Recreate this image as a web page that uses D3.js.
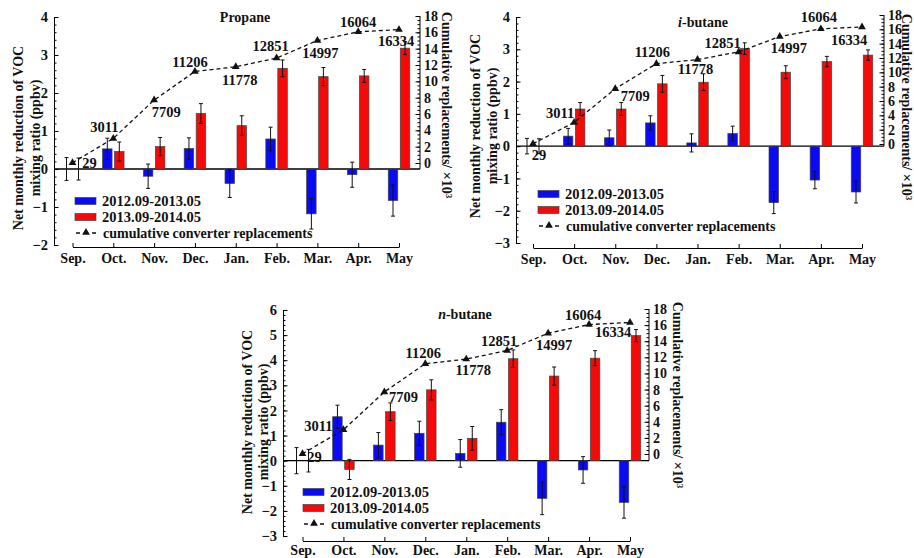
<!DOCTYPE html>
<html>
<head>
<meta charset="utf-8">
<script src="https://cdn.jsdelivr.net/npm/d3@7"></script>
<style>
  body { margin: 0; background: #fff; }
  text { font-family: 'Liberation Serif', 'Times New Roman', serif; font-weight: bold; fill: #111; }
</style>
</head>
<body>
<div id="chart"></div>
<script>
// data
const months = ['Sep.', 'Oct.', 'Nov.', 'Dec.', 'Jan.', 'Feb.', 'Mar.', 'Apr.', 'May']
const replacements = [29, 3011, 7709, 11206, 11778, 12851, 14997, 16064, 16334]
const seriesNames = ['2012.09-2013.05', '2013.09-2014.05', 'cumulative converter replacements']

const propane2012 = [0, 0.53, -0.19, 0.54, -0.38, 0.79, -1.18, -0.15, -0.83]
const propane2012Err = [0.3, 0.28, 0.32, 0.28, 0.37, 0.31, 0.4, 0.33, 0.41]
const propane2013 = [0, 0.46, 0.59, 1.46, 1.14, 2.65, 2.43, 2.45, 3.18]
const propane2013Err = [0.29, 0.25, 0.24, 0.26, 0.26, 0.22, 0.24, 0.17, 0.17]

const ibutane2012 = [0, 0.31, 0.26, 0.72, 0.10, 0.39, -1.75, -1.05, -1.42]
const ibutane2012Err = [0.24, 0.24, 0.24, 0.22, 0.28, 0.23, 0.34, 0.27, 0.34]
const ibutane2013 = [0, 1.15, 1.15, 1.93, 1.98, 3.02, 2.29, 2.62, 2.82]
const ibutane2013Err = [0.23, 0.2, 0.2, 0.26, 0.26, 0.18, 0.2, 0.16, 0.16]

const nbutane2012 = [0, 1.75, 0.62, 1.09, 0.29, 1.53, -1.5, -0.37, -1.66]
const nbutane2012Err = [0.52, 0.46, 0.5, 0.48, 0.55, 0.5, 0.65, 0.53, 0.63]
const nbutane2013 = [0, -0.35, 1.95, 2.82, 0.89, 4.06, 3.37, 4.08, 4.98]
const nbutane2013Err = [0.45, 0.4, 0.35, 0.4, 0.47, 0.35, 0.36, 0.3, 0.24]

const propaneTicks = [-2, -1, 0, 1, 2, 3, 4]
const ibutaneTicks = [-3, -2, -1, 0, 1, 2, 3, 4]
const nbutaneTicks = [-3, -2, -1, 0, 1, 2, 3, 4, 5, 6]
const rightTicks = [0, 2, 4, 6, 8, 10, 12, 14, 16, 18]

const blueColor = '#0a0af5'
const redColor = '#f50a0a'

// layout for each panel (pixels)
const panels = [
  { pre: '', title: 'Propane', a: propane2012, aErr: propane2012Err, b: propane2013, bErr: propane2013Err,
    ticks: propaneTicks, axisL: 54, axisR: 420, yTop: 17, yBot: 245, rZero: 163, rTop: 16,
    xAxisY: 247, monthY: 16, xSep: 72.5, xMay: 399, legX: 75, legY: 201, titleX: 245, titleY: 22,
    lab1: 18, lab2: 35, labY: 138, rLabX: 447, rLabY: 105,
    nudge: [[17, 0], [-9, -11], [12, 12], [-5, -10], [4, 13], [-6, -12], [3, 12], [0, -10], [-3, 11]] },
  { pre: 'i', title: '-butane', a: ibutane2012, aErr: ibutane2012Err, b: ibutane2013, bErr: ibutane2013Err,
    ticks: ibutaneTicks, axisL: 516, axisR: 884, yTop: 17, yBot: 243, rZero: 144, rTop: 15,
    xAxisY: 248, monthY: 16, xSep: 533, xMay: 862, legX: 538, legY: 194, titleX: 703, titleY: 27,
    lab1: 475, lab2: 492, labY: 126, rLabX: 907, rLabY: 107,
    nudge: [[6, 11], [-14, -9], [20, 7], [-4, -12], [-2, 9], [-16, -9], [9, 11], [-2, -12], [-13, 13]] },
  { pre: 'n', title: '-butane', a: nbutane2012, aErr: nbutane2012Err, b: nbutane2013, bErr: nbutane2013Err,
    ticks: nbutaneTicks, axisL: 283, axisR: 649, yTop: 310, yBot: 536, rZero: 454, rTop: 309,
    xAxisY: 541, monthY: 13.5, xSep: 302.5, xMay: 630, legX: 303, legY: 492, titleX: 465, titleY: 319,
    lab1: 247, lab2: 263, labY: 422, rLabX: 678, rLabY: 395,
    nudge: [[12, 3], [-25, -4], [19, 5], [-2, -11], [7, 11], [-8, -10], [6, 12], [-6, -10], [-17, 10]] }
]

const svg = d3.select('#chart').append('svg')
  .attr('width', 914).attr('height', 558)

const tri = d3.symbol().type(d3.symbolTriangle).size(26)

let drawPanel = (p) => {
  const g = svg.append('g')
  const dom = d3.extent(p.ticks)
  const y = d3.scaleLinear().domain(dom).range([p.yBot, p.yTop])
  const r = d3.scaleLinear().domain([0, 18]).range([p.rZero, p.rTop])
  const x = d3.scalePoint().domain(months).range([p.xSep, p.xMay])
  const barW = 9.5
  const off = 6

  // left axis, ticks inward
  const minorL = d3.range(dom[0], dom[1] + 0.001, 0.2)
  g.append('g').attr('transform', 'translate(' + p.axisL + ',0)')
    .call(d3.axisRight(y).tickValues(minorL).tickSize(2.5).tickFormat(''))
    .call(a => a.select('.domain').remove())
  const left = g.append('g').attr('transform', 'translate(' + p.axisL + ',0)')
    .call(d3.axisRight(y).tickValues(p.ticks).tickSize(4.5).tickSizeOuter(0).tickFormat(d3.format('d')))
  left.selectAll('text').attr('x', -6).attr('text-anchor', 'end').style('font-size', '14.5px')
    .attr('font-family', null).attr('font-size', null).attr('fill', '#111')

  // right axis, ticks inward
  const minorR = d3.range(0, 18.001, 0.5)
  g.append('g').attr('transform', 'translate(' + p.axisR + ',0)')
    .call(d3.axisLeft(r).tickValues(minorR).tickSize(2.5).tickFormat(''))
    .call(a => a.select('.domain').remove())
  const right = g.append('g').attr('transform', 'translate(' + p.axisR + ',0)')
    .call(d3.axisLeft(r).tickValues(rightTicks).tickSize(4.5).tickSizeOuter(0))
  right.select('.domain').remove()
  right.selectAll('text').attr('x', 4).attr('text-anchor', 'start').style('font-size', '14px')
    .attr('font-family', null).attr('font-size', null).attr('fill', '#111')
  g.append('line').attr('x1', p.axisR).attr('x2', p.axisR)
    .attr('y1', r(18)).attr('y2', y(0)).attr('stroke', '#000')

  // bottom category axis, ticks upward
  const bottom = g.append('g').attr('transform', 'translate(0,' + p.xAxisY + ')')
    .call(d3.axisTop(x).tickSize(4).tickSizeOuter(0))
  bottom.selectAll('text').attr('y', p.monthY).attr('dy', null).style('font-size', '14px')
    .attr('font-family', null).attr('font-size', null).attr('fill', '#111')

  // zero line
  g.append('line').attr('x1', p.axisL).attr('x2', p.axisR)
    .attr('y1', y(0)).attr('y2', y(0)).attr('stroke', '#000').attr('stroke-width', 1.3)

  // bars
  const sets = [
    { vals: p.a, errs: p.aErr, color: blueColor, dx: -off },
    { vals: p.b, errs: p.bErr, color: redColor, dx: off }
  ]
  sets.forEach(s => {
    g.append('g').selectAll('rect')
      .data(s.vals.map((v, i) => ({ v: v, m: months[i] })).filter(d => d.v !== 0))
      .enter().append('rect')
      .attr('x', d => x(d.m) + s.dx - barW / 2)
      .attr('width', barW)
      .attr('y', d => Math.min(y(d.v), y(0)))
      .attr('height', d => Math.abs(y(d.v) - y(0)))
      .attr('fill', s.color)
      .attr('stroke', '#444').attr('stroke-width', 0.7)

    const eb = g.append('g').selectAll('g')
      .data(s.vals.map((v, i) => ({ v: v, e: s.errs[i], m: months[i] })))
      .enter().append('g')
      .attr('stroke', '#111').attr('stroke-width', 1)
    eb.append('line')
      .attr('x1', d => x(d.m) + s.dx).attr('x2', d => x(d.m) + s.dx)
      .attr('y1', d => y(d.v - d.e)).attr('y2', d => y(d.v + d.e))
    eb.append('line')
      .attr('x1', d => x(d.m) + s.dx - 2).attr('x2', d => x(d.m) + s.dx + 2)
      .attr('y1', d => y(d.v - d.e)).attr('y2', d => y(d.v - d.e))
    eb.append('line')
      .attr('x1', d => x(d.m) + s.dx - 2).attr('x2', d => x(d.m) + s.dx + 2)
      .attr('y1', d => y(d.v + d.e)).attr('y2', d => y(d.v + d.e))
  })

  // cumulative line
  const pts = replacements.map((v, i) => ({ v: v, m: months[i], i: i }))
  g.append('path').datum(pts)
    .attr('d', d3.line().x(d => x(d.m)).y(d => r(d.v / 1000)))
    .attr('fill', 'none').attr('stroke', '#111').attr('stroke-width', 1.3)
    .attr('stroke-dasharray', '4,3')
  g.append('g').selectAll('path').data(pts).enter().append('path')
    .attr('d', tri)
    .attr('transform', d => 'translate(' + x(d.m) + ',' + r(d.v / 1000) + ')')
    .attr('fill', '#111')
  g.append('g').selectAll('text').data(pts).enter().append('text')
    .attr('x', d => x(d.m) + p.nudge[d.i][0])
    .attr('y', d => r(d.v / 1000) + p.nudge[d.i][1])
    .attr('dy', '0.35em')
    .attr('text-anchor', 'middle')
    .style('font-size', '14.5px')
    .text(d => d.v)

  // title
  const t = g.append('text').attr('x', p.titleX).attr('y', p.titleY)
    .attr('text-anchor', 'middle').style('font-size', '14px')
  if (p.pre) t.append('tspan').style('font-style', 'italic').text(p.pre)
  t.append('tspan').text(p.title)

  // axis titles
  g.append('text').attr('transform', 'translate(' + p.lab1 + ',' + p.labY + ') rotate(-90)')
    .attr('text-anchor', 'middle').attr('dy', '0.35em').style('font-size', '14px')
    .text('Net monthly reduction of VOC')
  g.append('text').attr('transform', 'translate(' + p.lab2 + ',' + p.labY + ') rotate(-90)')
    .attr('text-anchor', 'middle').attr('dy', '0.35em').style('font-size', '14px')
    .text('mixing ratio (ppbv)')
  const rl = g.append('text').attr('transform', 'translate(' + p.rLabX + ',' + p.rLabY + ') rotate(90)')
    .attr('text-anchor', 'middle').attr('dy', '0.35em').style('font-size', '14px')
  rl.append('tspan').text('Cumulative replacements/ ×10')
  rl.append('tspan').attr('dy', '-0.4em').style('font-size', '9px').text('3')

  // legend
  const lg = g.append('g').attr('transform', 'translate(' + p.legX + ',' + p.legY + ')')
  ;[blueColor, redColor].forEach((c, i) => {
    lg.append('rect').attr('x', 0).attr('y', i * 16 - 3.5).attr('width', 21).attr('height', 7)
      .attr('fill', c).attr('stroke', '#444').attr('stroke-width', 0.7)
    lg.append('text').attr('x', 27).attr('y', i * 16).attr('dy', '0.35em')
      .style('font-size', '14.5px').text(seriesNames[i])
  })
  lg.append('line').attr('x1', 1).attr('x2', 21).attr('y1', 32).attr('y2', 32)
    .attr('stroke', '#111').attr('stroke-width', 1.3).attr('stroke-dasharray', '4,12')
  lg.append('path').attr('d', tri).attr('transform', 'translate(11,31.5)').attr('fill', '#111')
  lg.append('text').attr('x', 28).attr('y', 32).attr('dy', '0.35em')
    .style('font-size', '14px').text(seriesNames[2])
}

panels.forEach(drawPanel)
</script>
</body>
</html>
